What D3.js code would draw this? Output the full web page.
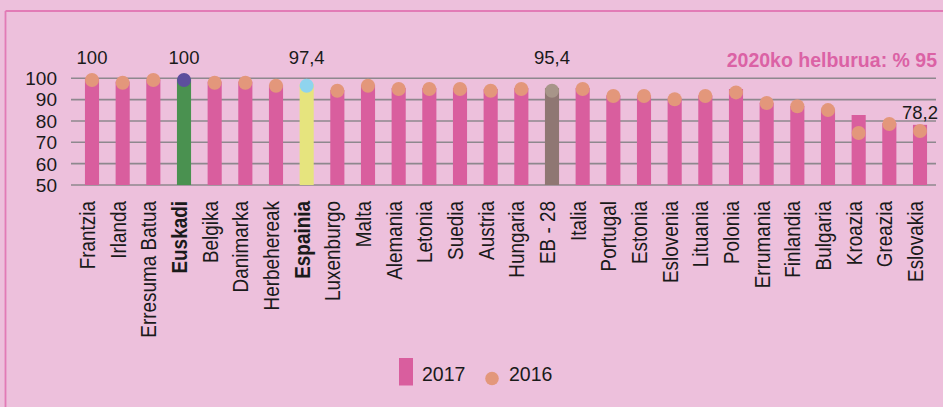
<!DOCTYPE html>
<html>
<head>
<meta charset="utf-8">
<script src="https://cdn.jsdelivr.net/npm/d3@7"></script>
<style>
  html, body { margin: 0; padding: 0; background: #edc0dc; }
  svg { display: block; }
  text { font-family: "Liberation Sans", Arial, Helvetica, sans-serif; }
</style>
</head>
<body>
<svg id="chart" width="943" height="407"></svg>
<script>
const categories = ["Frantzia","Irlanda","Erresuma Batua","Euskadi","Belgika","Danimarka","Herbehereak","Espainia","Luxenburgo","Malta","Alemania","Letonia","Suedia","Austria","Hungaria","EB - 28","Italia","Portugal","Estonia","Eslovenia","Lituania","Polonia","Errumania","Finlandia","Bulgaria","Kroazia","Greazia","Eslovakia"];
const values2017 = [100, 98.5, 99.5, 100, 98.5, 98.5, 97, 97.4, 94.5, 97, 95.5, 95.5, 95.5, 95, 95.5, 95.4, 95.5, 92, 92, 90.5, 92, 95, 88.5, 87, 85.5, 82.8, 79, 78.2];
const values2016 = [99.2, 97.9, 99.2, 99.2, 97.9, 97.9, 96.5, 96.5, 94.2, 96.5, 95, 95, 95, 94.2, 95, 94.2, 95, 91.7, 91.7, 90.2, 91.7, 93.4, 88.4, 86.9, 85.1, 74.4, 78.6, 75.3];
const yTicks = [50, 60, 70, 80, 90, 100];
const valueLabels = [
  {cat: "Frantzia", text: "100", value: 100},
  {cat: "Euskadi", text: "100", value: 100},
  {cat: "Espainia", text: "97,4", value: 97.4},
  {cat: "EB - 28", text: "95,4", value: 95.4},
  {cat: "Eslovakia", text: "78,2", value: 78.2}
];
const boldCats = ["Euskadi", "Espainia"];
const seriesNames = ["2017", "2016"];
const targetText = "2020ko helburua: % 95";

const barColor = "#d95e9e", dotColor = "#e3977b";
const special = {
  "Euskadi": {bar: "#4a9150", dot: "#5d4f9d"},
  "Espainia": {bar: "#e6e47e", dot: "#8fd4ee"},
  "EB - 28": {bar: "#8f7773", dot: "#a79589"}
};

const svg = d3.select("#chart");
// frame lines
svg.append("line").attr("x1", 5.5).attr("x2", 5.5).attr("y1", 11).attr("y2", 407)
  .attr("stroke", "#e27bb6").attr("stroke-width", 1.8);
svg.append("line").attr("x1", 5.5).attr("x2", 943).attr("y1", 11).attr("y2", 11)
  .attr("stroke", "#e27bb6").attr("stroke-width", 1.8);

const x = d3.scaleBand().domain(categories).range([76.67, 935.33])
  .paddingInner(0.54).paddingOuter(0.27);
const y = d3.scaleLinear().domain([50, 100]).range([185, 78.3]);

// gridlines
svg.append("g").selectAll("line").data(yTicks).join("line")
  .attr("x1", 71).attr("x2", 936)
  .attr("y1", d => y(d)).attr("y2", d => y(d))
  .attr("stroke", "#8e888e").attr("stroke-width", 1.6);

// y tick labels
svg.append("g").selectAll("text").data(yTicks).join("text")
  .attr("x", 57).attr("y", d => y(d)).attr("dy", "0.36em")
  .attr("text-anchor", "end").attr("font-size", 19).attr("fill", "#1a1a1a")
  .text(d => d);

// bars
svg.append("g").selectAll("rect").data(categories).join("rect")
  .attr("x", d => x(d)).attr("width", x.bandwidth())
  .attr("y", (d, i) => y(values2017[i]))
  .attr("height", (d, i) => y(50) - y(values2017[i]))
  .attr("fill", d => special[d] ? special[d].bar : barColor);

// dots
svg.append("g").selectAll("circle").data(categories).join("circle")
  .attr("cx", d => x(d) + x.bandwidth() / 2)
  .attr("cy", (d, i) => y(values2016[i]))
  .attr("r", 7)
  .attr("fill", d => special[d] ? special[d].dot : dotColor);

// value labels
svg.append("g").selectAll("text").data(valueLabels).join("text")
  .attr("x", d => x(d.cat) + x.bandwidth() / 2)
  .attr("y", d => (y(d.value) - 6 > 100 ? y(d.value) - 6 : 64))
  .attr("text-anchor", "middle").attr("font-size", 18.5).attr("fill", "#1a1a1a")
  .text(d => d.text);

// target text
svg.append("text").attr("x", 937).attr("y", 67).attr("text-anchor", "end")
  .attr("font-size", 19.5).attr("font-weight", "bold").attr("fill", "#db62a5")
  .text(targetText);

// category labels
svg.append("g").selectAll("text").data(categories).join("text")
  .attr("transform", d => `translate(${x(d) + x.bandwidth() / 2 + 3},201) rotate(-90) scale(0.88,1)`)
  .attr("text-anchor", "end").attr("font-size", 21.5)
  .attr("font-weight", d => boldCats.includes(d) ? "bold" : "normal")
  .attr("fill", "#1a1a1a")
  .text(d => d);

// legend
const lg = svg.append("g");
lg.append("rect").attr("x", 399).attr("y", 358).attr("width", 14).attr("height", 27.5).attr("fill", barColor);
lg.append("text").attr("x", 422).attr("y", 381).attr("font-size", 19.5).attr("fill", "#1a1a1a").text(seriesNames[0]);
lg.append("circle").attr("cx", 492).attr("cy", 378.5).attr("r", 6.8).attr("fill", dotColor);
lg.append("text").attr("x", 509).attr("y", 381).attr("font-size", 19.5).attr("fill", "#1a1a1a").text(seriesNames[1]);
</script>
</body>
</html>
